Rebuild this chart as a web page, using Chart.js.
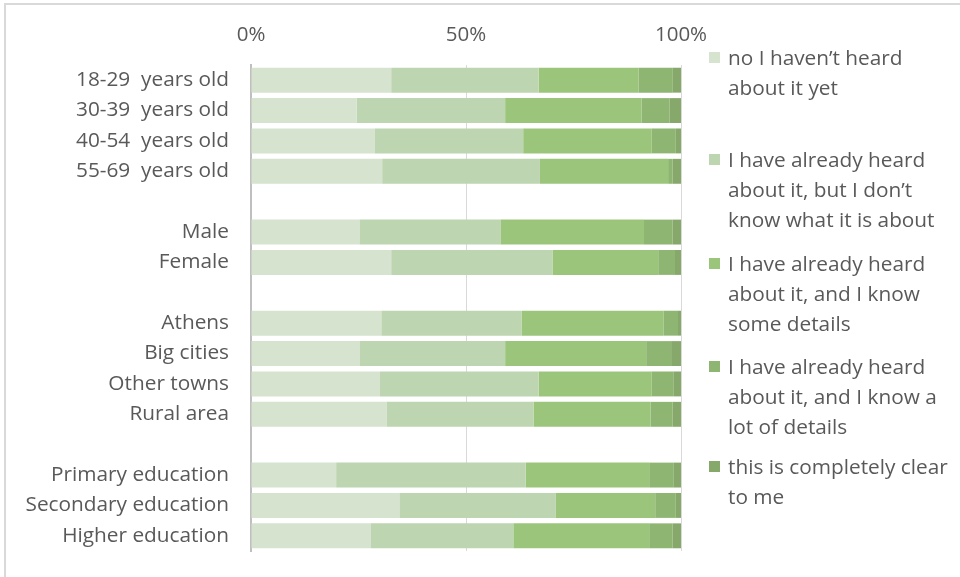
<!DOCTYPE html>
<html>
<head>
<meta charset="utf-8">
<script src="https://cdn.jsdelivr.net/npm/chart.js@4/dist/chart.umd.min.js"></script>
<style>
  html, body { margin: 0; padding: 0; background: #fff; }
  #wrap { position: relative; width: 960px; height: 577px; overflow: hidden; }
  #frame { position: absolute; left: 4px; top: 3px; width: 970px; height: 590px; border-left: 2px solid #d9d9d9; border-top: 2px solid #d9d9d9; box-sizing: border-box; pointer-events: none; }
  canvas { position: absolute; left: 0; top: 0; }
  #legend { position: absolute; left: 0; top: 0; width: 960px; height: 577px; font-family: "Open Sans", Lato, sans-serif; font-size: 20.8px; color: #595959; }
  .item { position: absolute; left: 709px; width: 250px; line-height: 30px; }
  .sw { position: absolute; left: 0; top: 10px; width: 11px; height: 11px; }
  .txt { position: absolute; left: 19px; top: 0; width: 240px; white-space: nowrap; }
</style>
</head>
<body>
<div id="wrap">
  <canvas id="c" width="960" height="577"></canvas>
  <div id="legend"></div>
  <div id="frame"></div>
</div>
<script>
const categories = [
  "18-29  years old", "30-39  years old", "40-54  years old", "55-69  years old", "",
  "Male", "Female", "",
  "Athens", "Big cities", "Other towns", "Rural area", "",
  "Primary education", "Secondary education", "Higher education"
];
const seriesNames = [
  "no I haven\u2019t heard about it yet",
  "I have already heard about it, but I don\u2019t know what it is about",
  "I have already heard about it, and I know some details",
  "I have already heard about it, and I know a lot of details",
  "this is completely clear to me"
];
const legendLines = [
  ["no I haven\u2019t heard", "about it yet"],
  ["I have already heard", "about it, but I don\u2019t", "know what it is about"],
  ["I have already heard", "about it, and I know", "some details"],
  ["I have already heard", "about it, and I know a", "lot of details"],
  ["this is completely clear", "to me"]
];
const notHeard      = [32.6, 24.6, 28.7, 30.5, null, 25.2, 32.6, null, 30.3, 25.2, 30.0, 31.5, null, 19.8, 34.5, 27.9];
const heardNoIdea   = [34.3, 34.5, 34.6, 36.7, null, 32.8, 37.5, null, 32.7, 33.9, 36.9, 34.2, null, 44.1, 36.3, 33.1];
const someDetails   = [23.2, 31.7, 29.9, 29.8, null, 33.4, 24.6, null, 32.9, 32.8, 26.3, 27.2, null, 28.7, 23.2, 31.6];
const lotDetails    = [ 8.0,  6.5,  5.6,  1.0, null,  6.6,  3.9, null,  3.4,  5.8,  5.0,  5.1, null,  5.6,  4.8,  5.4];
const completelyClear=[ 1.9,  2.7,  1.2,  2.0, null,  2.0,  1.4, null,  0.7,  2.3,  1.8,  2.0, null,  1.8,  1.2,  2.0];
const tickValues = [0, 50, 100];
const colors = ["#d5e3cf", "#bed5b1", "#9cc57c", "#8fb572", "#86a86a"];

const seriesData = [notHeard, heardNoIdea, someDetails, lotDetails, completelyClear];
const FONT = "'Open Sans', Lato, sans-serif";

const datasets = seriesData.map((d, i) => ({
  label: seriesNames[i],
  data: d,
  backgroundColor: colors[i],
  borderWidth: 0,
  barPercentage: 0.82,
  categoryPercentage: 1.0
}));

new Chart(document.getElementById('c'), {
  type: 'bar',
  data: { labels: categories, datasets },
  options: {
    indexAxis: 'y',
    responsive: false,
    animation: false,
    devicePixelRatio: 1,
    layout: { padding: { left: 0, right: 279, top: 0, bottom: 26 } },
    plugins: { legend: { display: false }, tooltip: { enabled: false } },
    scales: {
      x: {
        position: 'top',
        stacked: true,
        min: 0, max: 100,
        afterBuildTicks: s => { s.ticks = tickValues.map(v => ({ value: v })); },
        afterFit: s => { s.height = 65; },
        grid: { color: '#d9d9d9', lineWidth: 1, drawTicks: false },
        border: { display: false },
        ticks: { padding: 18, color: '#595959', font: { family: FONT, size: 20.5 }, callback: v => v + '%' }
      },
      y: {
        stacked: true,
        afterFit: s => { s.width = 251; s.paddingTop = 0; s.paddingBottom = 0; },
        grid: { display: false, drawTicks: false },
        border: { display: true, color: '#bfbfbf', width: 2 },
        ticks: { padding: 22, color: '#595959', font: { family: FONT, size: 20.8 }, autoSkip: false }
      }
    }
  }
});

const legend = document.getElementById('legend');
const itemTops = [42, 144, 248, 351, 451];
legendLines.forEach((lines, i) => {
  const it = document.createElement('div');
  it.className = 'item';
  it.style.top = itemTops[i] + 'px';
  const sw = document.createElement('div');
  sw.className = 'sw';
  sw.style.background = colors[i];
  const tx = document.createElement('div');
  tx.className = 'txt';
  tx.innerHTML = lines.join('<br>');
  it.appendChild(sw); it.appendChild(tx);
  legend.appendChild(it);
});
</script>
</body>
</html>
